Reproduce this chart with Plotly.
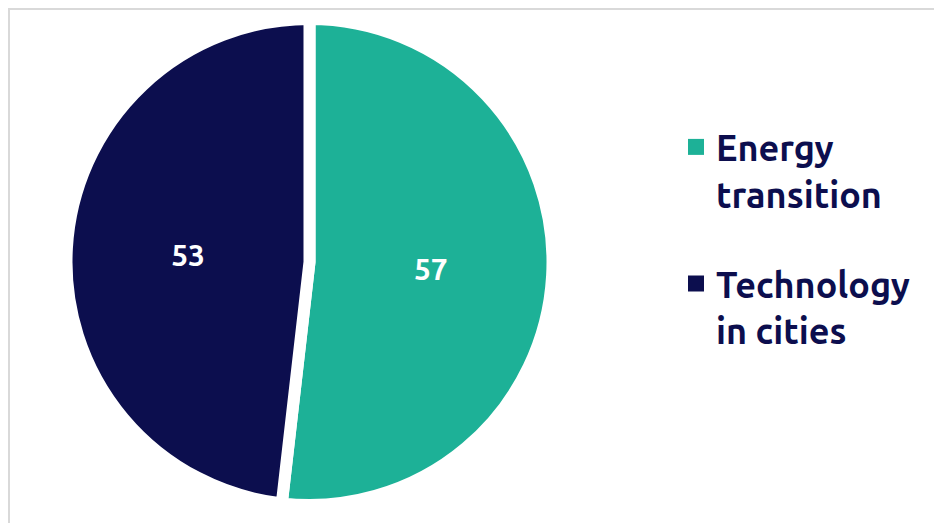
import plotly.graph_objects as go

labels = ["Energy<br>transition", "Technology<br>in cities"]
values = [57, 53]
colors = ["#1db197", "#0c0e4e"]

W, H = 942, 523
cx, cy, r = 301.5, 254, 243

fig = go.Figure()
fig.add_trace(go.Pie(
    labels=labels,
    values=values,
    sort=False,
    direction="clockwise",
    rotation=0,
    marker=dict(colors=colors, line=dict(color="white", width=12)),
    textinfo="value",
    textposition="inside",
    insidetextorientation="horizontal",
    insidetextfont=dict(color="white", size=30, family="Ubuntu, Noto Sans", weight="bold"),
    hoverinfo="label+value",
    showlegend=False,
    domain=dict(x=[(cx - r) / W, (cx + r) / W], y=[(H - cy - r) / H, (H - cy + r) / H]),
))

# legend entries (square swatches) matching the slices
for i, (lab, col) in enumerate(zip(labels, colors)):
    fig.add_trace(go.Scatter(
        x=[None], y=[None], mode="markers", name=lab,
        legendgroup=f"g{i}",
        marker=dict(symbol="square", size=16, color=col, line=dict(width=0)),
    ))

fig.update_layout(
    width=W, height=H,
    margin=dict(l=0, r=0, t=0, b=0),
    paper_bgcolor="white",
    plot_bgcolor="white",
    showlegend=True,
    xaxis=dict(visible=False),
    yaxis=dict(visible=False),
    legend=dict(
        x=668 / W, y=1 - 109 / H, xanchor="left", yanchor="top",
        valign="top",
        tracegroupgap=40,
        font=dict(size=36, color="#0c0e4e", family="Ubuntu, Noto Sans", weight="bold"),
        itemsizing="trace",
        bgcolor="rgba(0,0,0,0)",
    ),
    shapes=[dict(type="rect", xref="paper", yref="paper", x0=0, x1=1, y0=0, y1=1,
                 line=dict(color="#d9d9d9", width=4), layer="above")],
)

fig.write_html("out.html")
